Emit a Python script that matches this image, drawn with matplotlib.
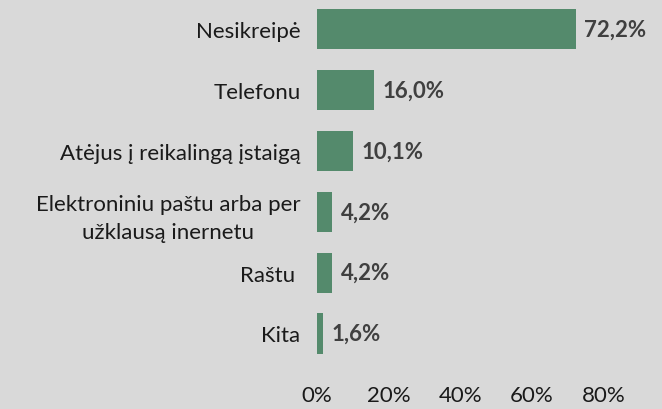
import matplotlib.pyplot as plt

plt.rcParams['font.family'] = ['Lato', 'DejaVu Sans']

categories = ['Nesikreipė', 'Telefonu', 'Atėjus į reikalingą įstaigą',
              'Elektroniniu paštu arba per\nužklausą inernetu', 'Raštu ', 'Kita']
values = [72.2, 16.0, 10.1, 4.2, 4.2, 1.6]
value_labels = ['72,2%', '16,0%', '10,1%', '4,2%', '4,2%', '1,6%']
ticks = [0, 20, 40, 60, 80]
tick_labels = ['0%', '20%', '40%', '60%', '80%']

bg = '#d9d9d9'
fs = 16
fig = plt.figure(figsize=(6.62, 4.1), dpi=100, facecolor=bg)
ax = fig.add_axes([0.479, 0.11, 0.433, 0.89], facecolor=bg)

y = list(range(len(categories)))
ax.barh(y, values, height=0.66, color='#548a6c')
for yi, v, lab in zip(y, values, value_labels):
    ax.annotate(lab, (v, yi), xytext=(6, 0), textcoords='offset points',
                va='center', ha='left', fontsize=fs, fontweight='bold', color='#404040')

ax.set_xlim(0, 80)
ax.set_ylim(len(categories) - 0.5, -0.5)
ax.set_yticks(y)
ax.set_yticklabels(categories, fontsize=fs, color='#1a1a1a', linespacing=1.5,
                   ha='right', multialignment='center')
ax.set_xticks(ticks)
ax.set_xticklabels(tick_labels, fontsize=fs, color='#1a1a1a')
ax.tick_params(axis='both', length=0)
ax.tick_params(axis='y', pad=12)
ax.tick_params(axis='x', pad=15)
for s in ax.spines.values():
    s.set_visible(False)

fig.savefig('out.png', dpi=100, facecolor=bg)
